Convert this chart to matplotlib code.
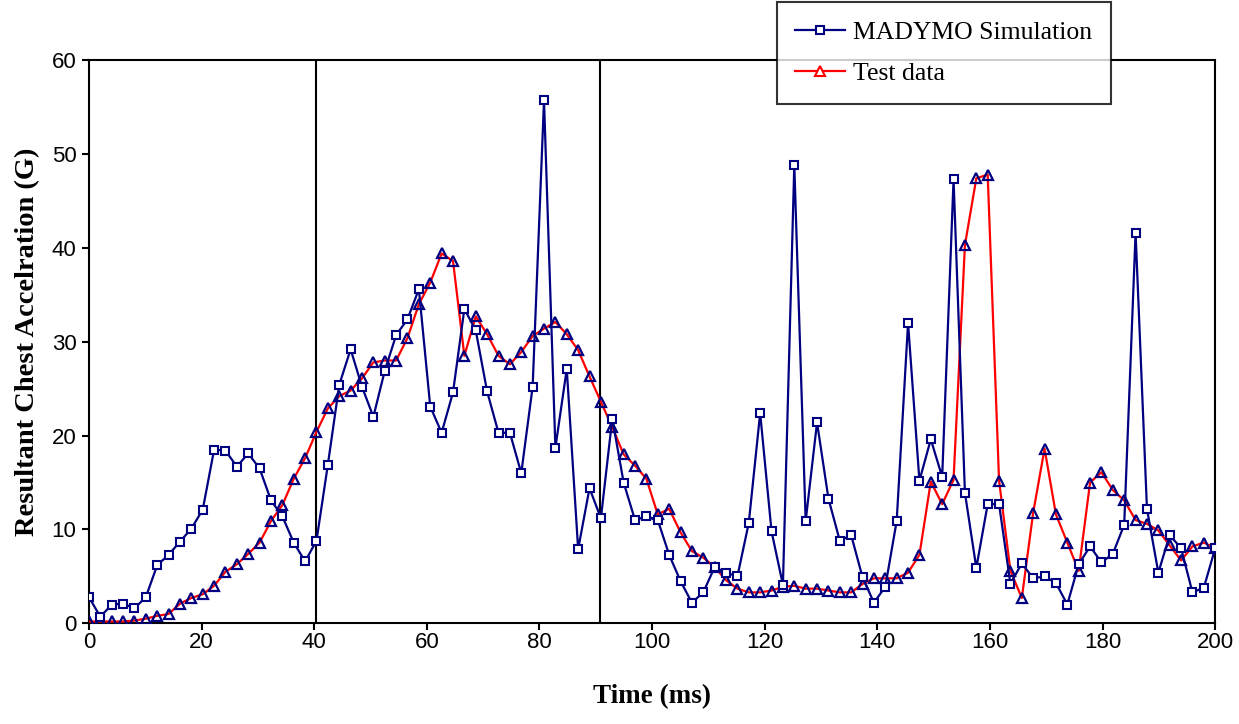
import numpy as np
import matplotlib.pyplot as plt
from matplotlib.lines import Line2D

# Resultant chest acceleration (G), sampled at the marker positions
madymo = [2.8, 0.7, 2.0, 2.1, 1.6, 2.8, 6.2, 7.3, 8.7, 10.1,
          12.1, 18.5, 18.4, 16.7, 18.1, 16.5, 13.1, 11.4, 8.6, 6.6,
          8.8, 16.9, 25.4, 29.2, 25.2, 22.0, 26.9, 30.7, 32.4, 35.6,
          23.1, 20.3, 24.6, 33.5, 31.2, 24.7, 20.3, 20.3, 16.0, 25.2,
          55.7, 18.7, 27.1, 7.9, 14.4, 11.2, 21.8, 15.0, 11.0, 11.4,
          11.0, 7.3, 4.5, 2.2, 3.3, 6.0, 5.4, 5.0, 10.7, 22.4,
          9.8, 4.1, 48.8, 10.9, 21.4, 13.3, 8.8, 9.4, 4.9, 2.2,
          3.9, 10.9, 32.0, 15.2, 19.6, 15.6, 47.3, 13.9, 5.9, 12.7,
          12.7, 4.2, 6.4, 4.8, 5.0, 4.3, 2.0, 6.3, 8.2, 6.5,
          7.4, 10.5, 41.6, 12.2, 5.4, 9.4, 8.0, 3.3, 3.8, 8.0]

test = [0.2, 0.2, 0.2, 0.2, 0.3, 0.5, 0.8, 1.0, 2.1, 2.7,
        3.1, 4.0, 5.5, 6.3, 7.4, 8.6, 10.9, 12.6, 15.4, 17.6,
        20.4, 22.9, 24.2, 24.8, 26.1, 27.8, 28.0, 28.0, 30.4, 34.0,
        36.3, 39.4, 38.6, 28.5, 32.7, 30.8, 28.5, 27.6, 28.9, 30.6,
        31.4, 32.1, 30.8, 29.1, 26.3, 23.6, 20.9, 18.0, 16.8, 15.4,
        11.6, 12.2, 9.7, 7.7, 7.0, 6.0, 4.6, 3.7, 3.3, 3.3,
        3.5, 3.9, 4.0, 3.7, 3.7, 3.5, 3.3, 3.3, 4.2, 4.8,
        4.8, 4.8, 5.4, 7.3, 15.1, 12.7, 15.3, 40.3, 47.4, 47.8,
        15.2, 5.6, 2.7, 11.8, 18.6, 11.6, 8.6, 5.6, 15.0, 16.1,
        14.2, 13.1, 11.0, 10.6, 9.9, 8.3, 6.7, 8.2, 8.6, 8.0]

# markers are evenly spaced over the 0-200 ms window
time_ms = np.linspace(0, 200, len(madymo))

phase_lines = [40.4, 90.8]
x_ticks = list(range(0, 201, 20))
y_ticks = list(range(0, 61, 10))

navy = '#000080'
red = '#ff0000'

fig = plt.figure(figsize=(12.39, 7.24), dpi=100)
ax = fig.add_axes([0.0718, 0.139, 0.909, 0.778])

ax.plot(time_ms, test, '-', color=red, linewidth=1.6, zorder=3,
        marker='^', markersize=6.5, markerfacecolor='none',
        markeredgecolor=navy, markeredgewidth=1.6)
ax.plot(time_ms, madymo, '-', color=navy, linewidth=1.6, zorder=4,
        marker='s', markersize=5.5, markerfacecolor='white',
        markeredgecolor=navy, markeredgewidth=1.5)

for xv in phase_lines:
    ax.axvline(xv, color='black', linewidth=1.5, zorder=2)

ax.set_xlim(0, 200)
ax.set_ylim(0, 60)
ax.set_xticks(x_ticks)
ax.set_yticks(y_ticks)
ax.tick_params(direction='out', length=5, width=1.5, labelsize=16)
ax.tick_params(axis='x', pad=1.5)
ax.tick_params(axis='y', pad=4)
for lab in ax.get_xticklabels() + ax.get_yticklabels():
    lab.set_family('Liberation Sans')
for sp in ax.spines.values():
    sp.set_linewidth(1.5)
    sp.set_color('black')

ax.set_xlabel('Time (ms)', fontsize=19.5, fontweight='bold',
              family='Liberation Serif', labelpad=22)
ax.set_ylabel('Resultant Chest Accelration (G)', fontsize=20.5, fontweight='bold',
              family='Liberation Serif', labelpad=8)

handles = [Line2D([0], [0], color=navy, linewidth=1.6, marker='s', markersize=5.5,
                  markerfacecolor='white', markeredgecolor=navy, markeredgewidth=1.5),
           Line2D([0], [0], color=red, linewidth=1.6, marker='^', markersize=6.5,
                  markerfacecolor='white', markeredgecolor=red, markeredgewidth=1.5)]
leg = fig.legend(handles, ['MADYMO Simulation', 'Test data'],
                 loc='upper left', bbox_to_anchor=(0.627, 0.997),
                 prop={'family': 'Liberation Serif', 'size': 18.5},
                 frameon=True, fancybox=False, handlelength=1.95,
                 borderpad=0.72, labelspacing=0.72, handletextpad=0.3,
                 borderaxespad=0.0)
leg.get_frame().set_edgecolor('black')
leg.get_frame().set_linewidth(1.5)

fig.savefig('out.png', dpi=100)
plt.close()
